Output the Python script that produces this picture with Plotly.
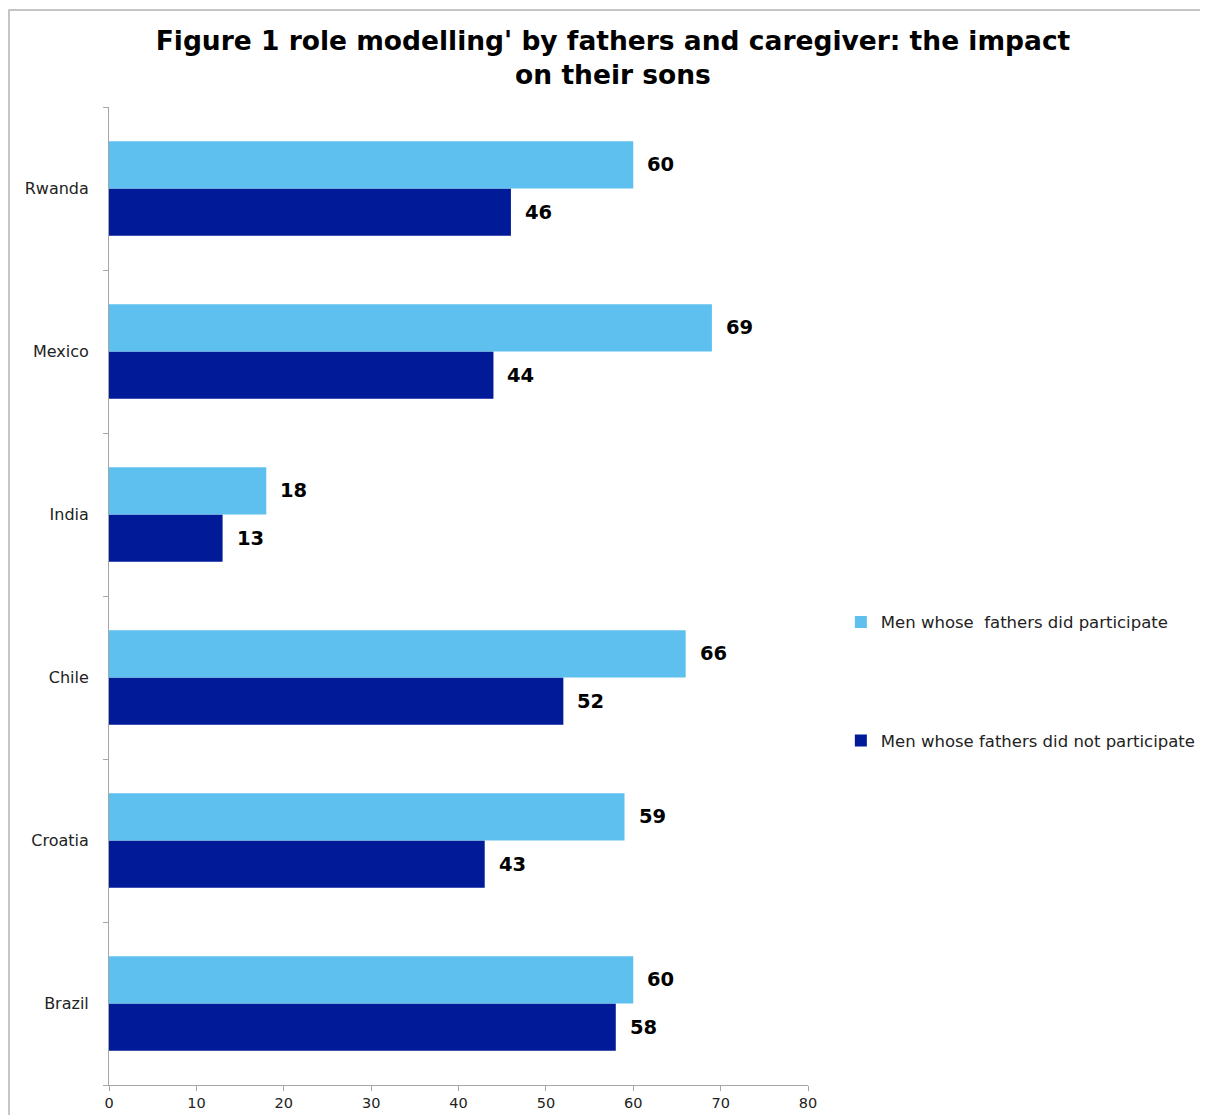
import plotly.graph_objects as go

categories = ["Brazil", "Croatia", "Chile", "India", "Mexico", "Rwanda"]
did_participate = [60, 59, 66, 18, 69, 60]
did_not_participate = [58, 43, 52, 13, 44, 46]
series_names = ["Men whose  fathers did participate", "Men whose fathers did not participate"]
x_ticks = [0, 10, 20, 30, 40, 50, 60, 70, 80]

LIGHT = "#5DC0EF"
DARK = "#001A98"
FONT = "DejaVu Sans"

W, H = 1192, 1107           # page body has an 8px margin
ML, MT = 101, 99
PW, PH = 699, 978
BARGAP = 0.42

fig = go.Figure()
fig.add_trace(go.Bar(
    y=categories, x=did_not_participate, orientation="h", name=series_names[1],
    marker=dict(color=DARK, line=dict(width=0)), legendrank=2, legendgroup="b",
))
fig.add_trace(go.Bar(
    y=categories, x=did_participate, orientation="h", name=series_names[0],
    marker=dict(color=LIGHT, line=dict(width=0)), legendrank=1, legendgroup="a",
))

# value labels, centred on each bar
half = (1 - BARGAP) / 4
for i, (a, b) in enumerate(zip(did_participate, did_not_participate)):
    for val, off in ((a, half), (b, -half)):
        fig.add_annotation(
            x=val, y=i + off, xref="x", yref="y", text=f"<b>{val}</b>",
            showarrow=False, xanchor="left", yanchor="middle", xshift=12,
            font=dict(family=FONT, size=19.5, color="#000000"),
        )

fig.update_layout(
    width=W, height=H,
    margin=dict(l=ML, r=W - ML - PW, t=MT, b=H - MT - PH, autoexpand=False),
    paper_bgcolor="white", plot_bgcolor="white",
    barmode="group", bargap=BARGAP, bargroupgap=0,
    title=dict(
        text="<b>Figure 1 role modelling' by fathers and caregiver: the impact<br>on their sons</b>",
        x=(613 - 8) / W, xanchor="center", y=1 - 42 / H, yanchor="middle",
        font=dict(family=FONT, size=26.5, color="#000000"),
    ),
    font=dict(family=FONT, size=15, color="#222222"),
    legend=dict(
        x=1.047, xanchor="left", y=0.491, yanchor="top",
        traceorder="grouped", tracegroupgap=94,
        font=dict(family=FONT, size=16.5, color="#222222"),
        bgcolor="rgba(0,0,0,0)",
    ),
    xaxis=dict(
        range=[0, 80], tickvals=x_ticks, showgrid=False, zeroline=False,
        showline=True, linecolor="#A6A6A6", linewidth=1, automargin=False,
        ticks="outside", ticklen=5, tickcolor="#A6A6A6",
        tickfont=dict(family=FONT, size=14.5, color="#222222"),
    ),
    yaxis=dict(
        showgrid=False, zeroline=False, showline=True, linecolor="#A6A6A6", linewidth=1,
        ticks="outside", ticklen=5, tickcolor="#A6A6A6", tickson="boundaries",
        ticklabelstandoff=16, automargin=False,
        tickfont=dict(family=FONT, size=16, color="#222222"),
    ),
    shapes=[dict(
        type="rect", xref="paper", yref="paper",
        x0=(1 - ML) / PW, x1=1.8, y0=-0.2, y1=(MT + PH - 2) / PH,
        line=dict(color="#B3B3B3", width=1.5), fillcolor="rgba(0,0,0,0)", layer="below",
    )],
)

fig.write_html("out.html")
